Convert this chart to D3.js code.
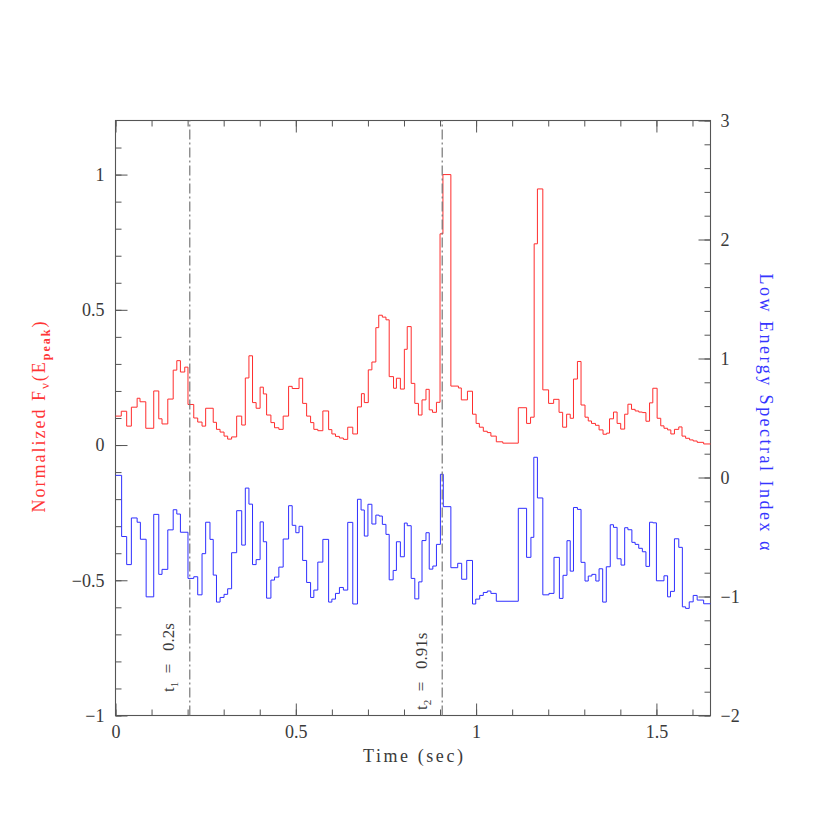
<!DOCTYPE html>
<html><head><meta charset="utf-8">
<script src="https://cdn.jsdelivr.net/npm/d3@7"></script>
<style>
body{margin:0;background:#fff}
svg{display:block}
text{font-family:"Liberation Serif","Times New Roman",serif}
</style>
</head><body>
<svg id="c" width="830" height="830"></svg>
<script>
// ---------------- data ----------------
const tEnd = 1.65;
// red: normalized F_nu(E_peak), left edges of time bins (s) and values
const redTimes = [
 0,0.016,0.031,0.044,0.060,0.068,0.084,0.106,0.120,0.129,
 0.145,0.160,0.170,0.180,0.192,0.201,0.217,0.228,0.240,0.250,
 0.271,0.280,0.290,0.301,0.311,0.322,0.336,0.350,0.360,0.370,
 0.380,0.390,0.401,0.410,0.419,0.431,0.441,0.453,0.465,0.480,
 0.490,0.509,0.519,0.530,0.541,0.550,0.561,0.575,0.591,0.600,
 0.610,0.621,0.632,0.644,0.658,0.671,0.682,0.690,0.701,0.711,
 0.722,0.730,0.740,0.750,0.759,0.771,0.779,0.790,0.801,0.809,
 0.820,0.830,0.840,0.850,0.861,0.870,0.879,0.890,0.900,0.908,
 0.930,0.951,0.959,0.976,0.990,1.000,1.009,1.020,1.031,1.041,
 1.056,1.074,1.117,1.140,1.151,1.161,1.170,1.185,1.201,1.215,
 1.230,1.240,1.251,1.261,1.270,1.281,1.291,1.302,1.311,1.320,
 1.331,1.341,1.352,1.362,1.370,1.381,1.391,1.401,1.412,1.421,
 1.431,1.441,1.451,1.461,1.471,1.481,1.490,1.502,1.512,1.521,
 1.531,1.540,1.550,1.562,1.571,1.581,1.592,1.602,1.613,1.631
];
const redValues = [
 0.107,0.125,0.070,0.140,0.173,0.160,0.062,0.200,0.097,0.078,
 0.170,0.277,0.312,0.270,0.288,0.150,0.100,0.085,0.070,0.136,
 0.084,0.058,0.048,0.033,0.022,0.030,0.107,0.074,0.248,0.330,
 0.157,0.136,0.214,0.189,0.111,0.083,0.064,0.058,0.107,0.217,
 0.209,0.247,0.154,0.107,0.083,0.058,0.053,0.126,0.057,0.041,
 0.032,0.026,0.021,0.066,0.041,0.141,0.190,0.157,0.278,0.307,
 0.434,0.480,0.473,0.463,0.253,0.210,0.247,0.207,0.354,0.438,
 0.228,0.154,0.111,0.167,0.206,0.130,0.121,0.158,0.781,1.000,
 0.218,0.211,0.167,0.199,0.114,0.080,0.066,0.051,0.046,0.033,
 0.012,0.007,0.138,0.080,0.103,0.744,0.947,0.204,0.154,0.169,
 0.121,0.066,0.114,0.099,0.244,0.309,0.148,0.103,0.089,0.080,
 0.073,0.056,0.040,0.044,0.097,0.122,0.080,0.059,0.114,0.151,
 0.132,0.126,0.122,0.120,0.088,0.156,0.210,0.099,0.071,0.062,
 0.056,0.041,0.058,0.067,0.033,0.025,0.019,0.015,0.010,0.004
];
// blue: low energy spectral index alpha (right axis)
const blueTimes = [
 0,0.017,0.031,0.044,0.060,0.069,0.085,0.106,0.120,0.129,
 0.145,0.160,0.170,0.180,0.201,0.217,0.228,0.240,0.250,0.262,
 0.271,0.280,0.290,0.301,0.311,0.322,0.336,0.350,0.360,0.370,
 0.380,0.390,0.401,0.410,0.419,0.431,0.441,0.453,0.465,0.480,
 0.490,0.500,0.509,0.519,0.530,0.541,0.550,0.561,0.575,0.591,
 0.600,0.610,0.621,0.632,0.644,0.658,0.671,0.681,0.690,0.700,
 0.711,0.722,0.731,0.740,0.750,0.759,0.770,0.779,0.790,0.801,
 0.809,0.820,0.830,0.841,0.850,0.861,0.870,0.880,0.890,0.901,
 0.909,0.930,0.949,0.960,0.974,0.990,0.999,1.010,1.020,1.031,
 1.041,1.056,1.117,1.140,1.152,1.160,1.170,1.185,1.202,1.216,
 1.231,1.241,1.252,1.261,1.270,1.281,1.291,1.302,1.311,1.321,
 1.332,1.341,1.351,1.361,1.372,1.381,1.391,1.402,1.412,1.421,
 1.432,1.441,1.451,1.461,1.471,1.481,1.490,1.500,1.521,1.531,
 1.539,1.550,1.562,1.572,1.581,1.591,1.602,1.613,1.631
];
const blueValues = [
 0.018,-0.496,-0.732,-0.340,-0.376,-0.519,-1.003,-0.310,-0.814,-0.772,
 -0.440,-0.271,-0.307,-0.460,-0.848,-0.834,-0.986,-0.640,-0.376,-0.520,
 -0.820,-1.047,-1.008,-0.982,-0.935,-0.632,-0.279,-0.568,-0.089,-0.224,
 -0.732,-0.690,-0.373,-0.540,-1.014,-0.862,-0.837,-0.753,-0.517,-0.237,
 -0.402,-0.464,-0.410,-0.697,-0.882,-1.008,-0.946,-0.711,-0.520,-1.047,
 -1.022,-0.974,-0.924,-0.946,-0.377,-1.063,-0.183,-0.273,-0.492,-0.225,
 -0.391,-0.316,-0.324,-0.394,-0.478,-0.860,-0.781,-0.540,-0.666,-0.383,
 -0.405,-0.848,-1.020,-0.877,-0.530,-0.464,-0.770,-0.744,-0.562,0.027,
 -0.245,-0.758,-0.721,-0.855,-0.697,-1.063,-1.022,-0.991,-0.966,-0.954,
 -0.974,-1.040,-0.259,-0.671,-0.503,0.170,-0.172,-0.986,-0.974,-0.671,
 -1.016,-0.822,-0.531,-0.787,-0.252,-0.268,-0.713,-0.870,-0.828,-0.814,
 -0.870,-0.767,-1.047,-0.750,-0.397,-0.419,-0.683,-0.736,-0.422,-0.439,
 -0.545,-0.562,-0.595,-0.624,-0.747,-0.376,-0.381,-0.868,-0.826,-1.003,
 -0.957,-0.515,-0.587,-1.087,-1.100,-1.045,-0.991,-1.030,-1.061
];
const markerTimes = [0.206, 0.906];
const markerSubs = ["1", "2"];
const markerValues = ["0.2s", "0.91s"];
const xMajorTicks = [0, 0.5, 1, 1.5];
const xMinorTicks = [0,0.1,0.2,0.3,0.4,0.5,0.6,0.7,0.8,0.9,1,1.1,1.2,1.3,1.4,1.5,1.6];
const yLeftMajorTicks = [-1, -0.5, 0, 0.5, 1];
const yLeftMinorTicks = [-1,-0.9,-0.8,-0.7,-0.6,-0.5,-0.4,-0.3,-0.2,-0.1,0,0.1,0.2,0.3,0.4,0.5,0.6,0.7,0.8,0.9,1,1.1];
const yRightMajorTicks = [-2,-1,0,1,2,3];
const yRightMinorTicks = d3.range(-20, 31, 2).map(d => d / 10);

// ---------------- drawing ----------------
const svg = d3.select("#c");
const L = 115.5, R = 710.5, T = 120.5, B = 715.5;
const x = d3.scaleLinear().domain([0, tEnd]).range([L, R]);
const yL = d3.scaleLinear().domain([-1, 1.2]).range([B, T]);
const yR = d3.scaleLinear().domain([-2, 3]).range([B, T]);
const fmt = d => d < 0 ? "\u2212" + Math.abs(d) : String(d);
const AX = "#555";
const TXT = "#3a3a3a";

function style(g) {
  g.select(".domain").remove();
  g.selectAll("line").attr("stroke", AX).attr("stroke-width", 1);
  g.selectAll("text").attr("font-family", "Liberation Serif").attr("font-size", 18).attr("fill", TXT);
}
// bottom
svg.append("g").attr("transform", `translate(0,${B})`)
  .call(d3.axisBottom(x).tickValues(xMinorTicks).tickSize(-6).tickFormat("")).call(style);
svg.append("g").attr("transform", `translate(0,${B})`)
  .call(d3.axisBottom(x).tickValues(xMajorTicks).tickSize(-12).tickPadding(10).tickFormat(fmt)).call(style);
// top
svg.append("g").attr("transform", `translate(0,${T})`)
  .call(d3.axisTop(x).tickValues(xMinorTicks).tickSize(-6).tickFormat("")).call(style);
svg.append("g").attr("transform", `translate(0,${T})`)
  .call(d3.axisTop(x).tickValues(xMajorTicks).tickSize(-12).tickFormat("")).call(style);
// left
svg.append("g").attr("transform", `translate(${L},0)`)
  .call(d3.axisLeft(yL).tickValues(yLeftMinorTicks).tickSize(-6).tickFormat("")).call(style);
svg.append("g").attr("transform", `translate(${L},0)`)
  .call(d3.axisLeft(yL).tickValues(yLeftMajorTicks).tickSize(-12).tickPadding(11).tickFormat(fmt)).call(style);
// right
svg.append("g").attr("transform", `translate(${R},0)`)
  .call(d3.axisRight(yR).tickValues(yRightMinorTicks).tickSize(-6).tickFormat("")).call(style);
svg.append("g").attr("transform", `translate(${R},0)`)
  .call(d3.axisRight(yR).tickValues(yRightMajorTicks).tickSize(-12).tickPadding(10).tickFormat(fmt)).call(style);

// frame
svg.append("rect").attr("x", L).attr("y", T).attr("width", R - L).attr("height", B - T)
  .attr("fill", "none").attr("stroke", AX).attr("stroke-width", 1.1);

// series
const redPts = redTimes.map((t, i) => [t, redValues[i]]).concat([[tEnd, redValues[redValues.length - 1]]]);
const bluePts = blueTimes.map((t, i) => [t, blueValues[i]]).concat([[tEnd, blueValues[blueValues.length - 1]]]);
svg.append("path").datum(redPts)
  .attr("d", d3.line().x(d => x(d[0])).y(d => yL(d[1])).curve(d3.curveStepAfter))
  .attr("fill", "none").attr("stroke", "#ff2d2d").attr("stroke-width", 1);
svg.append("path").datum(bluePts)
  .attr("d", d3.line().x(d => x(d[0])).y(d => yR(d[1])).curve(d3.curveStepAfter))
  .attr("fill", "none").attr("stroke", "#2f2fff").attr("stroke-width", 1);

// marker lines
const labelStartY = [692, 710];
markerTimes.forEach((t, i) => {
  svg.append("line").attr("x1", x(t)).attr("x2", x(t)).attr("y1", B).attr("y2", T)
    .attr("stroke", "#777").attr("stroke-width", 1.2).attr("stroke-dasharray", "10,3,2,3");
  const tx = svg.append("text")
    .attr("transform", `translate(${x(t) - 15.5},${labelStartY[i]}) rotate(-90)`)
    .attr("font-size", 17).attr("fill", TXT).style("white-space", "pre");
  tx.append("tspan").text("t");
  tx.append("tspan").attr("font-size", 11).attr("dy", 4).text(markerSubs[i]);
  tx.append("tspan").attr("dy", -4).text("  =   " + markerValues[i]);
});

// axis titles
svg.append("text").attr("x", (L + R) / 2).attr("y", 762).attr("text-anchor", "middle")
  .attr("font-size", 18).attr("fill", TXT).attr("textLength", 100).attr("lengthAdjust", "spacing")
  .text("Time (sec)");

const lt = svg.append("text").attr("transform", "translate(45,417) rotate(-90)")
  .attr("text-anchor", "middle").attr("font-size", 18).attr("fill", "#ff3535")
  .attr("textLength", 191).attr("lengthAdjust", "spacing");
lt.append("tspan").text("Normalized F");
lt.append("tspan").attr("font-size", 13).attr("dy", 4).text("\u03bd");
lt.append("tspan").attr("dy", -4).text("(E");
lt.append("tspan").attr("font-size", 12).attr("dy", 5).attr("font-weight", "bold").text("peak");
lt.append("tspan").attr("dy", -5).text(")");

svg.append("text").attr("transform", "translate(760,412) rotate(90)")
  .attr("text-anchor", "middle").attr("font-size", 18).attr("fill", "#3535ff")
  .attr("textLength", 277).attr("lengthAdjust", "spacing")
  .text("Low Energy Spectral Index \u03b1");
</script>
</body></html>
